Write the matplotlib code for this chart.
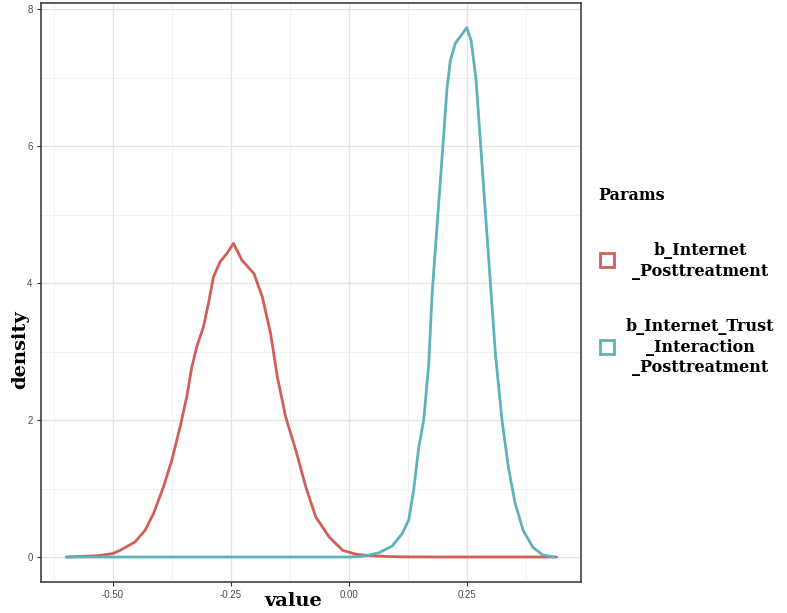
import matplotlib
matplotlib.use("Agg")
import matplotlib.pyplot as plt
from matplotlib.patches import Rectangle
from matplotlib.ticker import MultipleLocator

# Data
red_x = [-0.598, -0.56, -0.53, -0.50, -0.4845, -0.4527, -0.4315, -0.4139, -0.3927, -0.375,
         -0.3573, -0.3432, -0.3326, -0.322, -0.3079, -0.2973, -0.2867, -0.2726, -0.2585,
         -0.2443, -0.2259, -0.201, -0.1832, -0.1655, -0.1513, -0.1335, -0.1122, -0.0909,
         -0.0696, -0.0412, -0.0128, 0.0156, 0.044, 0.08, 0.12, 0.20, 0.30, 0.44]
red_y = [0.0, 0.01, 0.02, 0.05, 0.097, 0.22, 0.39, 0.63, 1.02, 1.41,
         1.90, 2.34, 2.77, 3.07, 3.36, 3.70, 4.09, 4.31, 4.43,
         4.58, 4.33, 4.14, 3.80, 3.26, 2.63, 2.04, 1.56, 1.02,
         0.58, 0.29, 0.097, 0.04, 0.02, 0.008, 0.002, 0.0, 0.0, 0.0]

teal_x = [-0.598, -0.30, 0.0, 0.03, 0.0637, 0.0919, 0.113, 0.127, 0.1377, 0.1482, 0.1588,
          0.1694, 0.1764, 0.187, 0.1976, 0.2081, 0.2152, 0.2257, 0.2383, 0.25, 0.259,
          0.2693, 0.2797, 0.29, 0.3004, 0.3108, 0.3246, 0.3384, 0.3522, 0.3695, 0.3902,
          0.4109, 0.435]
teal_y = [0.0, 0.0, 0.0, 0.01, 0.06, 0.16, 0.34, 0.54, 0.99, 1.60, 2.00,
          2.81, 3.82, 4.83, 5.83, 6.84, 7.25, 7.50, 7.62, 7.73, 7.55,
          7.00, 5.99, 4.98, 3.97, 2.96, 2.00, 1.30, 0.79, 0.39, 0.14,
          0.03, 0.0]

labels = ["b_Internet\n_Posttreatment", "b_Internet_Trust\n_Interaction\n_Posttreatment"]
colors = ["#CF5F57", "#5DB3B7"]
x_ticks = [-0.50, -0.25, 0.00, 0.25]
x_tick_labels = ["-0.50", "-0.25", "0.00", "0.25"]
y_ticks = [0, 2, 4, 6, 8]

W, H = 787, 613
fig = plt.figure(figsize=(W / 100, H / 100), dpi=100)
ax = fig.add_axes([41 / W, 1 - 582 / H, (581 - 41) / W, (582 - 3) / H])

ax.plot(red_x, red_y, color=colors[0], lw=2.0, solid_capstyle="round",
        solid_joinstyle="round", zorder=3)
ax.plot(teal_x, teal_y, color=colors[1], lw=2.0, solid_capstyle="round",
        solid_joinstyle="round", zorder=3)

ax.set_xlim(-0.652, 0.492)
ax.set_ylim(-0.365, 8.09)
ax.set_xticks(x_ticks)
ax.set_xticklabels(x_tick_labels)
ax.set_yticks(y_ticks)
ax.xaxis.set_minor_locator(MultipleLocator(0.125))
ax.yaxis.set_minor_locator(MultipleLocator(1))
ax.grid(which="major", color="#E3E3E3", lw=0.9)
ax.grid(which="minor", color="#F0F0F0", lw=0.6)
ax.set_axisbelow(True)
for s in ax.spines.values():
    s.set_color("#333333")
    s.set_linewidth(1.1)
ax.tick_params(which="major", length=3, width=0.8, color="#333333",
               labelsize=7, labelcolor="#4D4D4D", pad=3)
ax.tick_params(which="minor", length=0)
for t in ax.get_xticklabels() + ax.get_yticklabels():
    t.set_family("Liberation Sans")

fig.text(293 / W, 1 - 601 / H, "value", ha="center", va="center",
         family="DejaVu Serif", weight="bold", fontsize=14)
fig.text(20 / W, 1 - 350 / H, "density", ha="center", va="center", rotation=90,
         family="DejaVu Serif", weight="bold", fontsize=14)

fig.text(598 / W, 1 - 196 / H, "Params", ha="left", va="center",
         family="DejaVu Serif", weight="bold", fontsize=11.5)

key_y = [260, 347]
text_y = [261, 347]
for lab, c, ky, ty in zip(labels, colors, key_y, text_y):
    fig.patches.append(Rectangle(((600) / W, 1 - (ky + 7) / H), 14 / W, 14 / H,
                                 transform=fig.transFigure, facecolor="white",
                                 edgecolor=c, lw=2.0))
    fig.text(700 / W, 1 - ty / H, lab, ha="center", va="center", multialignment="center",
             family="DejaVu Serif", weight="bold", fontsize=11.5, linespacing=1.3)

fig.savefig("out.png", dpi=100)
